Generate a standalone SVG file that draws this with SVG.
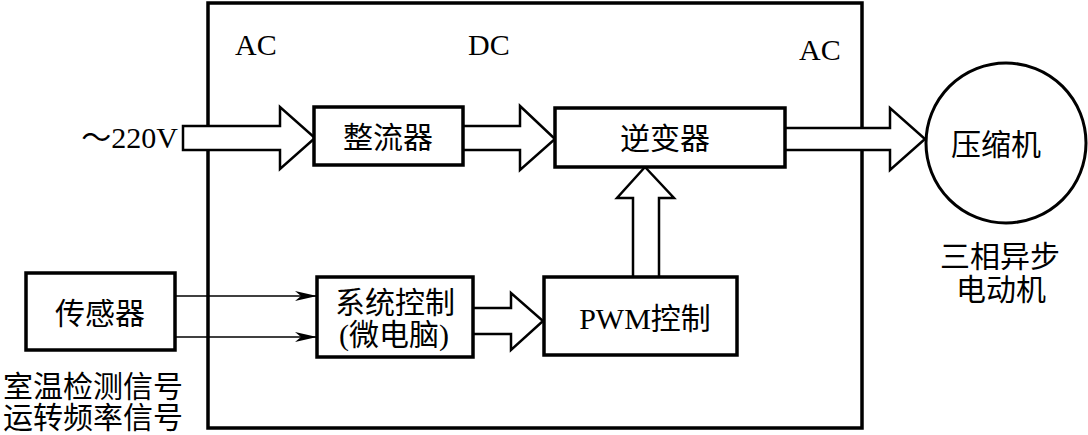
<svg xmlns="http://www.w3.org/2000/svg" width="1088" height="435" viewBox="0 0 1088 435">
<style>
text{font-family:"Liberation Serif","Noto Sans CJK SC",serif;font-size:30px;fill:#000}
.lbl{text-anchor:middle;dominant-baseline:central}
.box{fill:#fff;stroke:#000;stroke-width:3.5}
.hollow{fill:#fff;stroke:#000;stroke-width:2.5;stroke-linejoin:miter}
.thin{fill:none;stroke:#000;stroke-width:1.3}
</style>
<defs>
<marker id="ah" viewBox="0 0 22 10" refX="22" refY="5" markerWidth="22" markerHeight="10" markerUnits="userSpaceOnUse" orient="auto">
<path d="M0,0 L22,5 L0,10 L6,5 Z" fill="#000"/>
</marker>
</defs>
<rect width="1088" height="435" fill="#fff"/>
<g id="frame">
<rect x="208" y="3" width="654" height="425" fill="none" stroke="#000" stroke-width="3.5"/>
<text x="235" y="55" font-size="29">AC</text>
<text x="468" y="55" font-size="29">DC</text>
<text x="799" y="60" font-size="29">AC</text>
</g>
<g id="connectors">
<path class="hollow" d="M183,126 H280 V107 L315,138 L280,169 V150 H183 Z"/>
<path class="hollow" d="M463,126 H520 V106 L555,139 L520,170 V150 H463"/>
<path class="hollow" d="M785,128 H890 V108 L925,139 L890,170 V150 H785"/>
<path class="hollow" d="M633,277 V198 H617 L645,167 L674,198 H659 V277"/>
<path class="hollow" d="M473,308 H511 V293 L543,321 L511,350 V334 H473"/>
<line class="thin" x1="176" y1="296" x2="317" y2="296" marker-end="url(#ah)"/>
<line class="thin" x1="176" y1="337" x2="317" y2="337" marker-end="url(#ah)"/>
<text x="178" y="148" font-size="29" text-anchor="end">～220V</text>
</g>
<g id="rectifier">
<rect class="box" x="314" y="107" width="149" height="58"/>
<text class="lbl" x="388" y="137">整流器</text>
</g>
<g id="inverter">
<rect class="box" x="555" y="108" width="230" height="59"/>
<text class="lbl" x="665" y="138">逆变器</text>
</g>
<g id="compressor">
<circle cx="1006" cy="143" r="80" fill="#fff" stroke="#000" stroke-width="3"/>
<text class="lbl" x="996" y="144">压缩机</text>
<text class="lbl" x="1000" y="256">三相异步</text>
<text class="lbl" x="1001" y="289">电动机</text>
</g>
<g id="sysctrl">
<rect class="box" x="317" y="277" width="156" height="80"/>
<text class="lbl" x="395" y="302">系统控制</text>
<text class="lbl" x="394" y="334">(微电脑)</text>
</g>
<g id="pwm">
<rect class="box" x="544" y="277" width="193" height="78"/>
<text class="lbl" x="645" y="318">PWM控制</text>
</g>
<g id="sensor">
<rect class="box" x="26" y="273" width="149" height="77"/>
<text class="lbl" x="100" y="313">传感器</text>
<text class="lbl" x="93" y="386">室温检测信号</text>
<text class="lbl" x="93" y="417">运转频率信号</text>
</g>
</svg>
